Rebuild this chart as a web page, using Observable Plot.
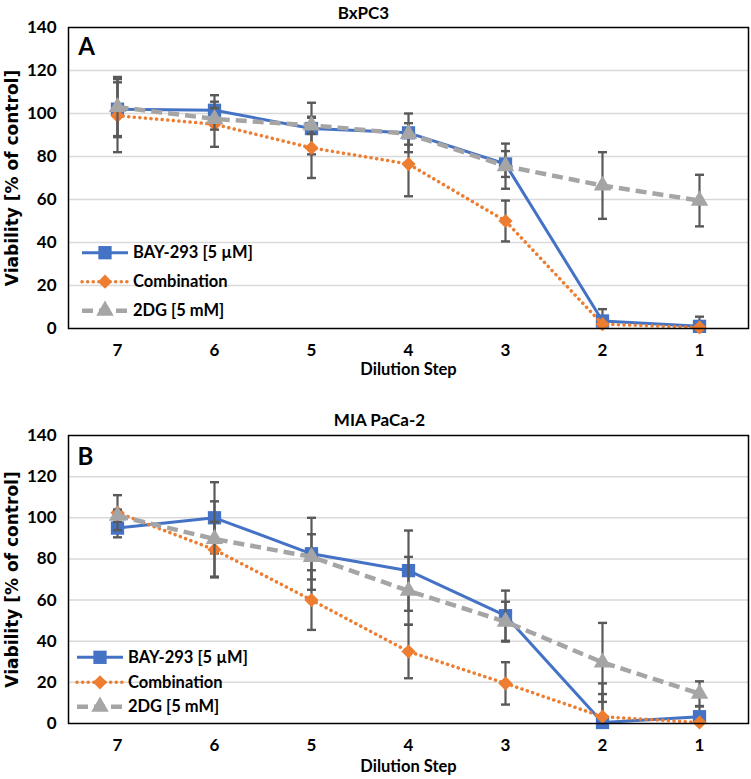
<!DOCTYPE html>
<html><head><meta charset="utf-8">
<script src="https://cdn.jsdelivr.net/npm/d3@7"></script>
<script src="https://cdn.jsdelivr.net/npm/@observablehq/plot@0.6"></script>
<style>
body{margin:0;background:#fff;width:751px;height:779px;overflow:hidden;}
.panel{position:relative;}
.panel svg{display:block;}
.legend{position:absolute;left:0;top:0;pointer-events:none;}
</style></head><body><div id="chart"></div><script>
// ---- data ----
const steps = ["7", "6", "5", "4", "3", "2", "1"];
const yTicks = [0, 20, 40, 60, 80, 100, 120, 140];
const seriesNames = ["BAY-293 [5 µM]", "Combination", "2DG [5 mM]"];
const seriesColors = ["#4472C4", "#ED7D31", "#A5A5A5"];

// Panel A: BxPC3
const bayA = [102, 101.5, 93, 91, 76.5, 3.5, 1];
const bayAErr = [12.5, 7, 12, 9, 6, 5.5, 4.5];
const combA = [99, 95, 84, 76.5, 50, 2, 0.5];
const combAErr = [17, 10.5, 14, 15, 9.5, 1, 0.5];
const dgA = [103, 97.5, 94.5, 90.5, 75.5, 66.5, 59.5];
const dgAErr = [14, 5, 4, 5, 10.5, 15.5, 12];

// Panel B: MIA PaCa-2
const bayB = [95, 100, 82.5, 74.3, 52.4, 0.5, 3.3];
const bayBErr = [4.5, 17.3, 17.5, 19.5, 12.2, 19, 5];
const combB = [102.5, 84.5, 60, 35, 19.5, 3.3, 0.5];
const combBErr = [8.5, 13.5, 14.5, 13, 10.3, 11, 0.5];
const dgB = [101, 89.7, 81, 64.5, 49.5, 29.7, 14.5];
const dgBErr = [3, 18.3, 11, 16.5, 9.7, 19.2, 6];

// ---- styles ----
const FONT = "Lato, 'Open Sans', sans-serif";
const styles = [
  {symbol: "square", r: 7.5, width: 3, dash: null, cap: "butt"},
  {symbol: "diamond2", r: 6.4, width: 3.5, dash: "0.1 5.5", cap: "round"},
  {symbol: "triangle", r: 6.5, width: 4.5, dash: "11 6", cap: "butt"}
];
const capSymbol = {draw(ctx) { ctx.moveTo(-4.5, 0); ctx.lineTo(4.5, 0); }};
const errColor = "#595959";

function panel(cfg) {
  const W = 751;
  const series = [[cfg.bay, cfg.bayErr], [cfg.comb, cfg.combErr], [cfg.dg, cfg.dgErr]];
  const marks = [
    Plot.ruleY(yTicks.filter(t => t > 0 && t < 140), {stroke: "#d9d9d9", strokeWidth: 1.5}),
  ];
  series.forEach(([vals, errs], si) => {
    const rows = steps.map((s, i) => ({step: s, value: vals[i], err: errs[i]}));
    const st = styles[si];
    marks.push(
      Plot.ruleX(rows, {x: "step", y1: d => d.value - d.err, y2: d => d.value + d.err, stroke: errColor, strokeWidth: 2.2, clip: true}),
      Plot.dot(rows, {x: "step", y: d => d.value + d.err, symbol: capSymbol, r: 1, stroke: errColor, strokeWidth: 2.4, fill: "none", clip: true}),
      Plot.dot(rows, {x: "step", y: d => d.value - d.err, symbol: capSymbol, r: 1, stroke: errColor, strokeWidth: 2.4, fill: "none", clip: true}),
      Plot.line(rows, {x: "step", y: "value", stroke: seriesColors[si], strokeWidth: st.width, strokeDasharray: st.dash, strokeLinecap: st.cap}),
      Plot.dot(rows, {x: "step", y: "value", symbol: st.symbol, r: st.r, fill: seriesColors[si], stroke: null})
    );
  });
  marks.push(
    Plot.frame({stroke: "#000", strokeWidth: 1.5}),
    Plot.axisY(yTicks, {tickSize: 0, tickPadding: 12, fontSize: 17, fontWeight: "bold", label: null}),
    Plot.axisX({tickSize: 0, tickPadding: 15, fontSize: 17, fontWeight: "bold", label: null}),
    Plot.text([cfg.title], {frameAnchor: "top", dy: cfg.titleDy, dx: cfg.titleDx, textAnchor: "middle", lineAnchor: "middle", fontSize: 17, fontWeight: "bold"}),
    Plot.text([cfg.letter], {frameAnchor: "top-left", dx: cfg.letterDx, dy: cfg.letterDy, textAnchor: "middle", lineAnchor: "middle", fontSize: 24, fontWeight: "bold"}),
    Plot.text(["Dilution Step"], {frameAnchor: "bottom", dy: cfg.xLabelDy, textAnchor: "middle", lineAnchor: "middle", fontSize: 16.5, fontWeight: "bold"}),
    Plot.text(["Viability [% of control]"], {frameAnchor: "left", dx: -56, rotate: -90, textAnchor: "middle", lineAnchor: "middle", fontSize: 17, fontWeight: "bold", fontFamily: "'DejaVu Sans', sans-serif"})
  );
  const svg = Plot.plot({
    width: W, height: cfg.height,
    marginLeft: 68, marginRight: 3, marginTop: cfg.marginTop, marginBottom: cfg.marginBottom,
    style: {fontFamily: FONT, color: "#000", background: "#fff", overflow: "visible"},
    x: {type: "point", domain: steps, padding: 0.5, axis: null},
    y: {domain: [0, 140], axis: null},
    marks
  });
  const div = document.createElement("div");
  div.className = "panel";
  div.appendChild(svg);
  // legend overlay
  const leg = d3.select(div).append("svg").attr("class", "legend").attr("width", 320).attr("height", cfg.height);
  const symMap = {square: d3.symbolSquare, diamond2: d3.symbolDiamond2, triangle: d3.symbolTriangle};
  seriesNames.forEach((name, si) => {
    const st = styles[si];
    const y = cfg.legendY[si];
    const g = leg.append("g");
    g.append("line").attr("x1", cfg.legendX0).attr("x2", cfg.legendX1).attr("y1", y).attr("y2", y)
      .attr("stroke", seriesColors[si]).attr("stroke-width", st.width)
      .attr("stroke-dasharray", st.dash).attr("stroke-linecap", st.cap);
    g.append("path").attr("d", d3.symbol(symMap[st.symbol], Math.PI * st.r * st.r)())
      .attr("transform", `translate(${(cfg.legendX0 + cfg.legendX1) / 2},${y})`).attr("fill", seriesColors[si]);
    g.append("text").attr("x", cfg.legendX1 + 5).attr("y", y).attr("dy", "0.35em")
      .attr("font-family", FONT).attr("font-size", 16.5).attr("font-weight", "bold").text(name);
  });
  return div;
}

const root = document.getElementById("chart");
root.appendChild(panel({
  title: "BxPC3", letter: "A",
  bay: bayA, bayErr: bayAErr, comb: combA, combErr: combAErr, dg: dgA, dgErr: dgAErr,
  height: 395, marginTop: 27, marginBottom: 67, titleDy: -14, titleDx: -45,
  letterDx: 18, letterDy: 20, xLabelDy: 41,
  legendY: [252.7, 281.7, 310.7], legendX0: 82, legendX1: 128
}));
root.appendChild(panel({
  title: "MIA PaCa-2", letter: "B",
  bay: bayB, bayErr: bayBErr, comb: combB, combErr: combBErr, dg: dgB, dgErr: dgBErr,
  height: 384, marginTop: 40, marginBottom: 56, titleDy: -15, titleDx: -29,
  letterDx: 17, letterDy: 22, xLabelDy: 43,
  legendY: [262.3, 287.3, 311.7], legendX0: 77, legendX1: 123
}));
</script></body></html>
